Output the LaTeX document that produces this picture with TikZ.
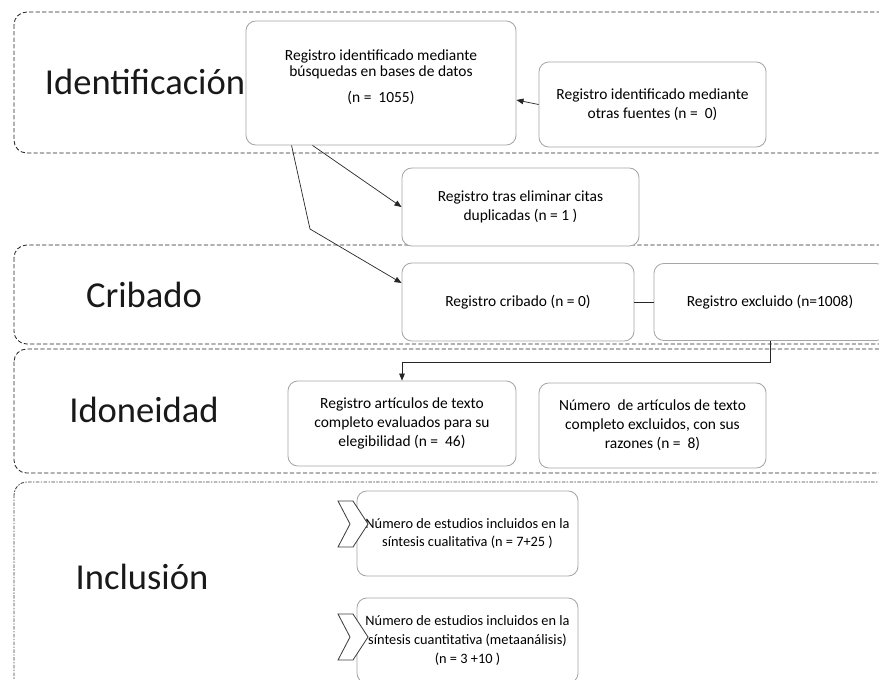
\documentclass[tikz,border=0pt]{standalone}
\usepackage{fontspec}
\setmainfont{Carlito}
\usetikzlibrary{calc,arrows.meta}
\def\chevron(#1,#2){\draw[chevron] (#1,#2-23) -- ++(15,0) -- ++(15,23) -- ++(-15,23) -- ++(-15,0) -- ++(12,-23) -- cycle;}
\tikzset{
  regbox/.style={draw=black!35, line width=0.6pt, fill=white, rounded corners=7pt, align=center, inner sep=2pt, font=\fontsize{11}{13.4}\selectfont},
  etapa/.style={draw=black!85, line width=0.6pt, dash pattern=on 3pt off 1.6pt, rounded corners=9pt},
  etapatxt/.style={font=\fontsize{26}{30}\selectfont, text=black!90},
  flecha/.style={draw=black!85, line width=0.5pt, -{Triangle[length=5pt,width=4pt]}},
  chevron/.style={draw=black!75, fill=white, line width=0.6pt, line join=miter},
}

\begin{document}
\begin{tikzpicture}[x=0.025cm, y=-0.025cm]
			%%%%% START %%%%%
			\useasboundingbox (0,0) rectangle (879,679);
			\clip (0,0) rectangle (879,679);
			
			% etapas
			\draw[etapa] (14,12) rectangle (900,153);
			\draw[etapa] (14,245) rectangle (900,344);
			\draw[etapa] (14,349) rectangle (900,473);
			\draw[etapa, draw=black!75, dash pattern=on 2.5pt off 1pt on 1pt off 1pt] (14,482) rectangle (900,710);
			
			\node[etapatxt] (identificacion) at (145,82) {Identificación};
			\node[etapatxt] (cribado) at (144,295) {Cribado};
			\node[etapatxt] (idoneidad) at (144,410) {Idoneidad};
			\node[etapatxt] (inclusion) at (142,577) {Inclusión};
			
			% registros
			\node[regbox, minimum width=6.75cm, minimum height=3.1cm] (busq) at (381,83) {Registro identificado mediante\\[-2pt]búsquedas en bases de datos\\[5pt](n =\ \ 1055)\\[-4pt]\mbox{}};
			\node[regbox, minimum width=5.675cm, minimum height=2.125cm] (otras) at (652.5,104.5) {Registro identificado mediante\\otras fuentes (n =\ \ 0)};
			\node[regbox, minimum width=5.925cm, minimum height=1.95cm] (dupl) at (520.5,207) {Registro tras eliminar citas\\duplicadas (n = 1 )};
			\node[regbox, minimum width=5.8cm, minimum height=1.95cm] (crib) at (518,302) {Registro cribado (n = 0)};
			\node[regbox, minimum width=5.8cm, minimum height=1.925cm] (excl) at (770,302) {Registro excluido (n=1008)};
			\node[regbox, minimum width=5.7cm, minimum height=2.125cm] (eleg) at (402,423.5) {Registro artículos de texto\\completo evaluados para su\\elegibilidad (n =\ \ 46)};
			\node[regbox, minimum width=5.675cm, minimum height=2.125cm] (razon) at (652.5,425.5) {Número\ \ de artículos de texto\\completo excluidos, con sus\\razones (n =\ \  8)};
			\node[regbox, font=\fontsize{10.2}{13.4}\selectfont, minimum width=5.525cm, minimum height=2.125cm] (cuali) at (467.5,533.5) {Número\ de estudios incluidos en la\\síntesis cualitativa (n = 7+25 )};
			\node[regbox, font=\fontsize{10.2}{13.4}\selectfont, minimum width=5.525cm, minimum height=2.125cm] (cuanti) at (467.5,640.5) {Número\ de estudios incluidos en la\\síntesis cuantitativa (metaanálisis)\\(n = 3 +10 )};
			
			% conexiones
			\coordinate (quiebre) at (310,229);
			\draw[flecha] (otras.west) -- ($(busq.east)+(0,17)$);
			\draw[flecha] ($(busq.south west)+(67,0)$) -- (dupl.west);
			\draw[flecha] ($(busq.south west)+(46,0)$) -- (quiebre) -- ($(crib.west)+(0,-19)$);
			\draw[draw=black!85, line width=0.5pt] (crib.east) -- (excl.west);
			\draw[flecha] (excl.south) -- ++(0,21) -| (eleg.north);
			
			\chevron(338,524)
			\chevron(338,637)
			
			%%%%% END %%%%%
\end{tikzpicture}
\end{document}
